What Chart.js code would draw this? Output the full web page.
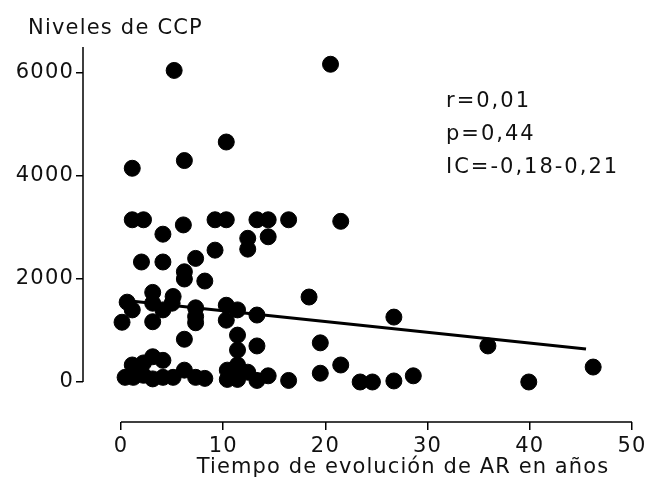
<!DOCTYPE html>
<html>
<head>
<meta charset="utf-8">
<script src="https://cdn.jsdelivr.net/npm/chart.js@4.4.1/dist/chart.umd.min.js"></script>
<style>
  html, body { margin: 0; padding: 0; background: #fff; }
  canvas { display: block; }
</style>
</head>
<body>
<canvas id="scatterChart" width="658" height="495"></canvas>
<script>
// values: years of RA evolution vs CCP levels
const evolucionAnios = [
  5.2, 20.5, 1.1, 6.2, 10.3,
  1.1, 2.2, 6.1, 9.2, 10.3, 13.3, 14.4, 16.4, 21.5,
  4.1, 14.4, 12.4, 12.4, 9.2, 7.3, 2.0, 4.1, 6.2, 6.2, 8.2, 3.1, 5.1, 18.4,
  0.6, 1.1, 3.1, 4.1, 5.0, 7.3, 7.3, 7.3, 10.3, 10.3, 11.4, 13.3, 0.1, 3.1, 26.7,
  6.2, 11.4, 11.4, 13.3, 19.5, 35.9,
  1.1, 2.2, 3.1, 4.1, 6.2, 10.4, 11.4, 12.4, 14.4, 19.5, 21.5, 46.2,
  0.4, 1.2, 2.2, 3.1, 4.1, 5.1, 7.3, 8.2, 10.4, 11.4, 13.3, 16.4, 23.4, 24.6, 26.7, 28.6, 39.9
];
const nivelesCCP = [
  6050, 6170, 4150, 4300, 4660,
  3150, 3150, 3050, 3150, 3150, 3150, 3150, 3150, 3120,
  2870, 2820, 2790, 2580, 2560, 2400, 2330, 2330, 2140, 2000, 1960, 1740, 1660, 1650,
  1550, 1400, 1530, 1400, 1530, 1440, 1270, 1150, 1490, 1200, 1400, 1300, 1160, 1170, 1260,
  830, 910, 620, 700, 760, 700,
  330, 370, 490, 420, 230, 230, 330, 190, 120, 170, 330, 290,
  90, 90, 130, 60, 90, 90, 90, 70, 50, 50, 30, 30, 0, 0, 20, 120, 0
];

// regression line ends
const rectaX = [0, 45.5];
const rectaY = [1590, 640];

const xTicks = [0, 10, 20, 30, 40, 50];
const yTicks = [0, 2000, 4000, 6000];
const statsLines = ['r=0,01', 'p=0,44', 'IC=-0,18-0,21'];
const yTitle = 'Niveles de CCP';
const xTitle = 'Tiempo de evolución de AR en años';

const FONT = 'DejaVu Sans';
const FS = 21;

// wider spacing like the original's bitmap-ish font
const spacing = {
  id: 'spacing',
  beforeDraw(chart) { chart.ctx.letterSpacing = '1.2px'; }
};

// axis lines only span the data range (0..50 and 0..top), plus free text
const axesAndText = {
  id: 'axesAndText',
  afterDraw(chart) {
    const ctx = chart.ctx;
    const x = chart.scales.x;
    const y = chart.scales.y;
    const area = chart.chartArea;
    ctx.save();
    ctx.strokeStyle = '#000';
    ctx.lineWidth = 1.5;
    ctx.beginPath();
    ctx.moveTo(x.getPixelForValue(0), area.bottom);
    ctx.lineTo(x.getPixelForValue(50), area.bottom);
    ctx.moveTo(area.left, y.getPixelForValue(0));
    ctx.lineTo(area.left, area.top);
    ctx.stroke();

    ctx.fillStyle = '#111';
    ctx.font = FS + 'px "' + FONT + '"';
    ctx.textBaseline = 'middle';
    ctx.textAlign = 'left';
    ctx.letterSpacing = '1.2px';
    ctx.fillText(yTitle, 28, 29);
    ctx.letterSpacing = '2px';
    statsLines.forEach((s, i) => ctx.fillText(s, 446, 102 + i * 33));
    ctx.letterSpacing = '1.1px';
    ctx.textAlign = 'center';
    ctx.fillText(xTitle, 403, 468);
    ctx.restore();
  }
};

const ctx = document.getElementById('scatterChart');
new Chart(ctx, {
  type: 'scatter',
  data: {
    datasets: [
      {
        label: 'CCP',
        data: evolucionAnios.map((v, i) => ({ x: v, y: nivelesCCP[i] })),
        backgroundColor: '#000',
        borderColor: '#000',
        pointRadius: 8,
        pointHoverRadius: 8
      },
      {
        type: 'line',
        label: 'Recta',
        data: rectaX.map((v, i) => ({ x: v, y: rectaY[i] })),
        borderColor: '#000',
        borderWidth: 3,
        pointRadius: 0,
        fill: false
      }
    ]
  },
  options: {
    responsive: false,
    animation: false,
    devicePixelRatio: 1,
    layout: { padding: { top: 47, right: 26, left: 0, bottom: 0 } },
    plugins: {
      legend: { display: false },
      title: { display: false },
      tooltip: { enabled: false }
    },
    scales: {
      x: {
        type: 'linear',
        min: -3.72,
        max: 50,
        afterBuildTicks: s => { s.ticks = xTicks.map(v => ({ value: v })); },
        afterFit: s => { s.height = 73; },
        border: { display: false },
        grid: { drawOnChartArea: false, drawTicks: true, tickLength: 8, color: '#000', lineWidth: 1.5 },
        ticks: { color: '#111', font: { family: FONT, size: FS }, padding: 4, maxRotation: 0, callback: v => String(v) }
      },
      y: {
        type: 'linear',
        min: -777,
        max: 6505,
        afterBuildTicks: s => { s.ticks = yTicks.map(v => ({ value: v })); },
        afterFit: s => { s.width = 83; },
        border: { display: false },
        grid: { drawOnChartArea: false, drawTicks: true, tickLength: 7, color: '#000', lineWidth: 1.5 },
        ticks: { color: '#111', font: { family: FONT, size: FS }, padding: 2, callback: v => String(v) }
      }
    }
  },
  plugins: [spacing, axesAndText]
});
</script>
</body>
</html>
